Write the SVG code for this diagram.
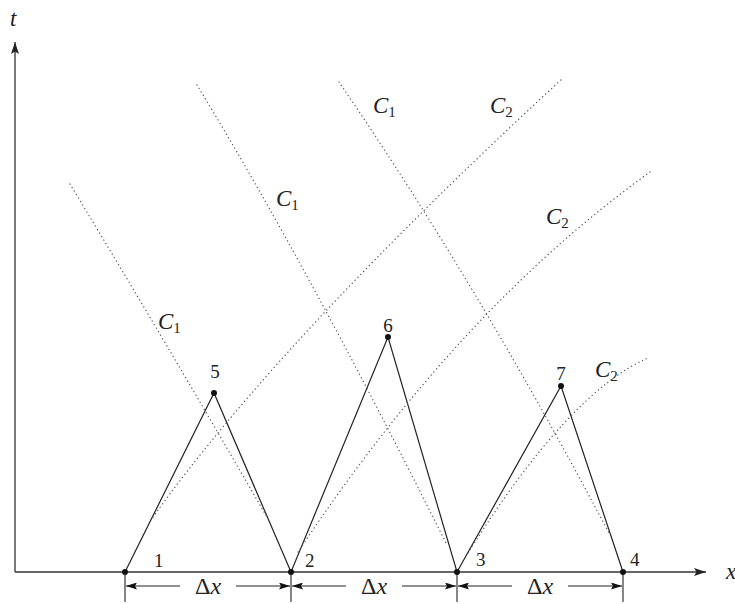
<svg xmlns="http://www.w3.org/2000/svg" width="735" height="604" viewBox="0 0 735 604">
<style>
.ax{stroke:#333;stroke-width:1.3;fill:none}
.sol{stroke:#222;stroke-width:1.2;fill:none}
.dot{stroke:#555;stroke-width:1.3;fill:none;stroke-dasharray:0.1 4;stroke-linecap:round}
.dim{stroke:#222;stroke-width:1.1;fill:none}
text{font-family:'Liberation Serif','Times New Roman','DejaVu Serif',serif;fill:#222}
.it{font-style:italic;font-size:23px}
.num{font-size:19px}
.dx{font-size:24px}
.sub{font-size:15px;font-style:normal}
</style>
<defs>
<marker id="ah" viewBox="0 0 12 8" refX="12" refY="4" markerWidth="12" markerHeight="8" markerUnits="userSpaceOnUse" orient="auto">
<path d="M0,0 L12,4 L0,8 L2.5,4 Z" fill="#222"/>
</marker>
<marker id="dh" viewBox="0 0 11 7" refX="11" refY="3.5" markerWidth="11" markerHeight="7" markerUnits="userSpaceOnUse" orient="auto">
<path d="M0,0 L11,3.5 L0,7 L2,3.5 Z" fill="#111"/>
</marker>
</defs>
<g id="axes">
<line class="ax" x1="15" y1="572" x2="706" y2="572" marker-end="url(#ah)"/>
<line class="ax" x1="15" y1="572" x2="15" y2="42" marker-end="url(#ah)"/>
<text class="it" x="10" y="26">t</text>
<text class="it" x="726" y="579">x</text>
</g>
<g id="connectors">
<path class="sol" d="M125,572 L214,393 L291,572 L388,337 L457,572 L561,386 L623,572"/>
<path class="dot" d="M70,184 Q170,349 268,519"/>
<path class="dot" d="M197,85 Q308,267 447,545"/>
<path class="dot" d="M339,82 Q480,288 610,535"/>
<path class="dot" d="M153,517 Q282,337 563,78"/>
<path class="dot" d="M298,552 Q459,309 650,172"/>
<path class="dot" d="M468,553 Q569,392 648,358"/>
</g>
<g id="dimension">
<line class="dim" x1="125" y1="572" x2="125" y2="602"/>
<line class="dim" x1="291" y1="572" x2="291" y2="602"/>
<line class="dim" x1="457" y1="572" x2="457" y2="602"/>
<line class="dim" x1="623" y1="572" x2="623" y2="602"/>
<line class="dim" x1="180" y1="586" x2="126" y2="586" marker-end="url(#dh)"/>
<line class="dim" x1="236" y1="586" x2="290" y2="586" marker-end="url(#dh)"/>
<line class="dim" x1="346" y1="586" x2="292" y2="586" marker-end="url(#dh)"/>
<line class="dim" x1="402" y1="586" x2="456" y2="586" marker-end="url(#dh)"/>
<line class="dim" x1="512" y1="586" x2="458" y2="586" marker-end="url(#dh)"/>
<line class="dim" x1="568" y1="586" x2="622" y2="586" marker-end="url(#dh)"/>
<text class="dx" x="208" y="594" text-anchor="middle">Δ<tspan font-style="italic">x</tspan></text>
<text class="dx" x="374" y="594" text-anchor="middle">Δ<tspan font-style="italic">x</tspan></text>
<text class="dx" x="540" y="594" text-anchor="middle">Δ<tspan font-style="italic">x</tspan></text>
</g>
<g id="n1"><circle cx="125" cy="572" r="3" fill="#111"/><text class="num" x="154" y="567">1</text></g>
<g id="n2"><circle cx="291" cy="572" r="3" fill="#111"/><text class="num" x="305" y="567">2</text></g>
<g id="n3"><circle cx="457" cy="572" r="3" fill="#111"/><text class="num" x="476" y="566">3</text></g>
<g id="n4"><circle cx="623" cy="572" r="3" fill="#111"/><text class="num" x="630" y="566">4</text></g>
<g id="n5"><circle cx="214" cy="393" r="3" fill="#111"/><text class="num" x="215" y="378" text-anchor="middle">5</text></g>
<g id="n6"><circle cx="388" cy="337" r="3" fill="#111"/><text class="num" x="388" y="332" text-anchor="middle">6</text></g>
<g id="n7"><circle cx="561" cy="386" r="3" fill="#111"/><text class="num" x="561" y="380" text-anchor="middle">7</text></g>
<g id="labels">
<text class="it" x="158" y="329">C<tspan class="sub" dy="4">1</tspan></text>
<text class="it" x="276" y="206">C<tspan class="sub" dy="4">1</tspan></text>
<text class="it" x="373" y="113">C<tspan class="sub" dy="4">1</tspan></text>
<text class="it" x="490" y="113">C<tspan class="sub" dy="4">2</tspan></text>
<text class="it" x="546" y="224">C<tspan class="sub" dy="4">2</tspan></text>
<text class="it" x="595" y="377">C<tspan class="sub" dy="4">2</tspan></text>
</g>
</svg>
